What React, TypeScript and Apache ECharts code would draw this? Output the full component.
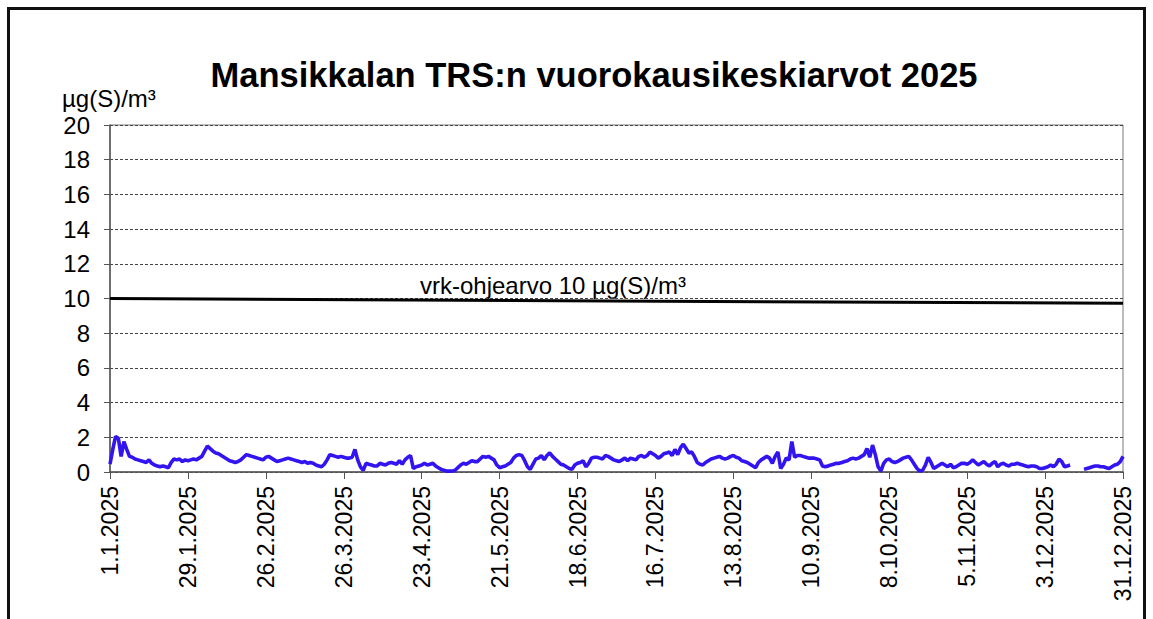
import React, { useEffect, useRef } from "react";
import * as echarts from "echarts";

// Daily TRS averages 2025 (µg(S)/m³)
const fromJan01 = [
  0.45, 1.3, 2.05, 1.95, 0.9, 1.75, 1.3, 0.9, 0.85, 0.75,
  0.7, 0.65, 0.6, 0.55, 0.7, 0.5, 0.4, 0.35, 0.3, 0.35,
  0.3, 0.25, 0.55, 0.75, 0.7, 0.75, 0.6, 0.7, 0.65, 0.7,
  0.75, 0.7, 0.8, 0.9, 1.2, 1.5, 1.35, 1.2, 1.1, 1.05,
  0.95, 0.85, 0.75, 0.65, 0.6, 0.55,
];
const fromFeb16 = [
  0.6, 0.7, 0.85, 1.0, 0.95, 0.9, 0.85, 0.8, 0.75, 0.7,
  0.85, 0.9, 0.8, 0.7, 0.6, 0.65, 0.7, 0.75, 0.8, 0.75,
  0.7, 0.65, 0.6, 0.55, 0.6, 0.5, 0.55, 0.5, 0.4, 0.35,
  0.3, 0.45, 0.7, 1.0, 0.95, 0.9, 0.85, 0.9, 0.85, 0.8,
  0.8, 0.85, 1.3, 0.7, 0.3, 0.1,
];
const fromApr03 = [
  0.5, 0.45, 0.4, 0.35, 0.35, 0.5, 0.45, 0.4, 0.5, 0.55,
  0.5, 0.45, 0.65, 0.45, 0.7, 0.85, 0.95, 0.2, 0.3, 0.35,
  0.4, 0.5, 0.4, 0.45, 0.5, 0.35, 0.25, 0.15, 0.1, 0.05,
  0.05, 0.05, 0.1, 0.25, 0.4, 0.5, 0.45, 0.55, 0.65, 0.6,
  0.6, 0.75, 0.9, 0.85, 0.9, 0.8, 0.7,
];
const fromMay20 = [
  0.4, 0.25, 0.3, 0.35, 0.45, 0.55, 0.8, 0.95, 1.0, 0.95,
  0.65, 0.3, 0.15, 0.45, 0.75, 0.8, 0.95, 0.7, 0.95, 1.1,
  0.9, 0.75, 0.6, 0.45, 0.4, 0.3, 0.2, 0.15, 0.4, 0.5,
  0.55, 0.65, 0.3, 0.5, 0.8, 0.85, 0.85, 0.8, 0.75, 0.95,
  0.9, 0.8, 0.7, 0.65, 0.6, 0.7, 0.8,
];
const fromJul06 = [
  0.65, 0.8, 0.75, 0.7, 0.9, 0.95, 0.85, 0.95, 1.15, 1.05,
  0.95, 0.8, 0.9, 1.05, 1.1, 1.15, 0.95, 1.3, 1.0, 1.4,
  1.6, 1.35, 1.1, 1.15, 0.9, 0.55, 0.45, 0.4, 0.55, 0.65,
  0.75, 0.8, 0.85, 0.9, 0.8, 0.75, 0.8, 0.9, 0.95, 0.85,
  0.8, 0.65, 0.6, 0.55, 0.45, 0.35, 0.25,
];
const fromAug22 = [
  0.55, 0.7, 0.8, 0.9, 0.8, 0.5, 0.9, 1.15, 0.2, 0.45,
  0.8, 0.7, 1.75, 0.85, 0.95, 0.95, 0.9, 0.85, 0.8, 0.8,
  0.8, 0.75, 0.7, 0.35, 0.3, 0.35, 0.4, 0.45, 0.5, 0.5,
  0.55, 0.6, 0.65, 0.75, 0.8, 0.75, 0.8, 0.9, 1.0, 1.35,
  0.85, 1.55, 1.0, 0.3, 0.05, 0.5, 0.7,
];
const fromOct08 = [
  0.75, 0.6, 0.55, 0.6, 0.7, 0.8, 0.85, 0.9, 0.7, 0.45,
  0.2, 0.05, 0.1, 0.4, 0.85, 0.55, 0.2, 0.3, 0.4, 0.5,
  0.4, 0.3, 0.45, 0.25, 0.3, 0.4, 0.5, 0.5, 0.45, 0.55,
  0.7, 0.55, 0.4, 0.5, 0.6, 0.45, 0.35, 0.5, 0.6, 0.3,
  0.45, 0.5, 0.4, 0.35, 0.45,
];
const fromNov22: (number | null)[] = [
  0.45, 0.5, 0.45, 0.4, 0.35, 0.3, 0.35, 0.35, 0.3, 0.2,
  0.2, 0.25, 0.3, 0.4, 0.3, 0.45, 0.75, 0.6, 0.3, 0.35,
  0.4, null, null, null, null, 0.15, 0.2, 0.25, 0.3, 0.35,
  0.35, 0.3, 0.3, 0.25, 0.2, 0.3, 0.4, 0.45, 0.6, 0.9,
];
const trsDaily: (number | null)[] = [
  ...fromJan01, ...fromFeb16, ...fromApr03, ...fromMay20,
  ...fromJul06, ...fromAug22, ...fromOct08, ...fromNov22,
];

// Guideline (vrk-ohjearvo), drawn from first to last day
const guideStart = 10;
const guideEnd = 9.72;

// Category labels: every day of 2025
const dayLabels: string[] = [];
for (let i = 0; i < 365; i++) {
  const d = new Date(Date.UTC(2025, 0, 1 + i));
  dayLabels.push(`${d.getUTCDate()}.${d.getUTCMonth() + 1}.2025`);
}

const titleText = "Mansikkalan TRS:n vuorokausikeskiarvot 2025";
const unitText = "µg(S)/m³";
const guideText = "vrk-ohjearvo 10 µg(S)/m³";

const FONT = "'Liberation Sans', Arial, sans-serif";

export default function App() {
  const ref = useRef<HTMLDivElement>(null);
  useEffect(() => {
    if (!ref.current) return;
    const chart = echarts.init(ref.current, undefined, { renderer: "svg" });
    const guideData = trsDaily.map((_, i) =>
      i === 0 ? guideStart : i === trsDaily.length - 1 ? guideEnd : null
    );
    chart.setOption({
      animation: false,
      backgroundColor: "#ffffff",
      grid: {
        left: 110,
        top: 125,
        right: 30,
        bottom: 147,
        show: true,
        borderColor: "#7a7a7a",
        borderWidth: 1,
        backgroundColor: "transparent",
      },
      xAxis: {
        type: "category",
        data: dayLabels,
        boundaryGap: false,
        axisLine: { lineStyle: { color: "#555", width: 1.5 } },
        axisTick: { show: true, interval: 27, length: 7, lineStyle: { color: "#555" } },
        axisLabel: {
          interval: 27,
          rotate: 90,
          margin: 14,
          fontSize: 23,
          color: "#000",
          fontFamily: FONT,
        },
        splitLine: { show: false },
      },
      yAxis: {
        type: "value",
        min: 0,
        max: 20,
        interval: 2,
        axisLine: { show: true, lineStyle: { color: "#555", width: 1.5 } },
        axisTick: { show: true, length: 6, lineStyle: { color: "#555" } },
        axisLabel: { fontSize: 24, color: "#000", margin: 20, fontFamily: FONT },
        splitLine: { show: true, lineStyle: { color: "#444", type: [3, 2], width: 1 } },
      },
      series: [
        {
          name: "vrk-ohjearvo",
          type: "line",
          data: guideData,
          connectNulls: true,
          showSymbol: false,
          lineStyle: { color: "#000", width: 3 },
          itemStyle: { color: "#000" },
          z: 2,
        },
        {
          name: "TRS",
          type: "line",
          data: trsDaily,
          connectNulls: false,
          showSymbol: false,
          lineStyle: { color: "#3214f0", width: 3.6 },
          itemStyle: { color: "#3214f0" },
          z: 3,
        },
      ],
      graphic: [
        {
          type: "rect",
          shape: { x: 8.5, y: 8.5, width: 1136, height: 700 },
          style: { fill: "none", stroke: "#111", lineWidth: 3 },
          silent: true,
        },
        {
          type: "text",
          x: 594,
          y: 75,
          style: {
            text: titleText,
            fontSize: 34.5,
            fontWeight: "bold",
            fontFamily: FONT,
            fill: "#000",
            align: "center",
            verticalAlign: "middle",
          },
        },
        {
          type: "text",
          x: 62,
          y: 98,
          style: {
            text: unitText,
            fontSize: 24,
            fontFamily: FONT,
            fill: "#000",
            align: "left",
            verticalAlign: "middle",
          },
        },
        {
          type: "text",
          x: 420,
          y: 285,
          style: {
            text: guideText,
            fontSize: 24,
            fontFamily: FONT,
            fill: "#000",
            align: "left",
            verticalAlign: "middle",
          },
        },
      ],
    });
    return () => chart.dispose();
  }, []);
  return (
    <div
      ref={ref}
      style={{ position: "fixed", left: 0, top: 0, width: 1153, height: 619, background: "#fff" }}
    />
  );
}
